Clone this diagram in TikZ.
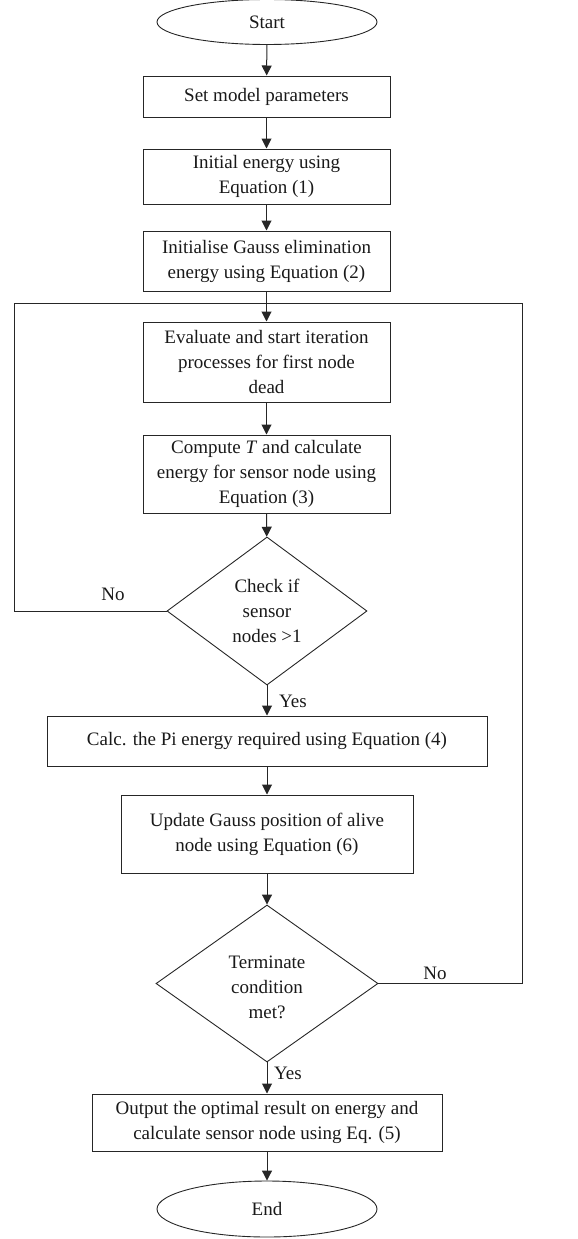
\documentclass[tikz,border=0pt]{standalone}
\usepackage{fontspec}
\setmainfont{Liberation Serif}
\usetikzlibrary{shapes.geometric,arrows.meta}
\begin{document}
\begin{tikzpicture}[x=1pt,y=-1pt,
  every node/.style={font=\fontsize{19}{25}\selectfont, text=black!90, align=center, inner sep=0pt},
  proc/.style={draw=black!85, line width=1pt, rectangle},
  term/.style={draw=black!85, line width=0.9pt, ellipse},
  decide/.style={draw=black!85, line width=0.9pt, diamond},
  conn/.style={draw=black!85, line width=1pt},
  arr/.style={conn, -{Triangle[length=10pt,width=10pt]}},
  lbl/.style={font=\fontsize{19}{25}\selectfont}
]
\useasboundingbox (0,0) rectangle (578,1239);

\node[term, minimum width=220pt, minimum height=45pt] (start) at (267,22) {Start};
\node[proc, minimum width=247pt, minimum height=41pt] (b1) at (266.5,96.5) {Set model parameters};
\node[proc, minimum width=247pt, minimum height=55pt] (b2) at (266.5,176.5) {Initial energy using\\Equation (1)};
\node[proc, minimum width=247pt, minimum height=60pt] (b3) at (266.5,261) {Initialise Gauss elimination\\energy using Equation (2)};
\node[proc, minimum width=247pt, minimum height=80pt] (b4) at (266.5,362) {Evaluate and start iteration\\processes for first node\\dead};
\node[proc, minimum width=247pt, minimum height=78pt] (b5) at (266.5,474) {Compute \textit{T} and calculate\\energy for sensor node using\\Equation (3)};
\node[decide, minimum width=200pt, minimum height=148pt] (d1) at (267,611) {Check if\\sensor\\nodes >1};
\node[proc, minimum width=440pt, minimum height=50pt] (b6) at (267,741) {Calc. the Pi energy required using Equation (4)};
\node[proc, minimum width=292pt, minimum height=78pt] (b7) at (267,834) {Update Gauss position of alive\\node using Equation (6)};
\node[decide, minimum width=222pt, minimum height=157pt] (d2) at (267,983.5) {\raisebox{-9pt}[0pt][0pt]{\begin{tabular}{@{}c@{}}Terminate\\condition\\met?\end{tabular}}};
\node[proc, minimum width=350pt, minimum height=57pt] (b8) at (267,1122.5) {Output the optimal result on energy and\\calculate sensor node using Eq. (5)};
\node[term, minimum width=220pt, minimum height=56pt] (end) at (267,1209) {End};

\coordinate (jtop) at (267,303);
\coordinate (ltop) at (14,303);
\coordinate (rtop) at (522,303);

\draw[arr] (start) -- (b1);
\draw[arr] (b1) -- (b2);
\draw[arr] (b2) -- (b3);
\draw[arr] (b3) -- (b4);
\draw[arr] (b4) -- (b5);
\draw[arr] (b5) -- (d1);
\draw[arr] (d1) -- (b6);
\draw[arr] (b6) -- (b7);
\draw[arr] (b7) -- (d2);
\draw[arr] (d2) -- (b8);
\draw[arr] (b8) -- (end);

\draw[conn] (d1.west) -| (ltop) -- (jtop);
\draw[conn] (d2.east) -| (rtop) -- (jtop);

\node[lbl] (no1) at (113,594) {No};
\node[lbl] (no2) at (435,973) {No};
\node[lbl] (yes1) at (293,701) {Yes};
\node[lbl] (yes2) at (288,1073) {Yes};
\end{tikzpicture}
\end{document}
